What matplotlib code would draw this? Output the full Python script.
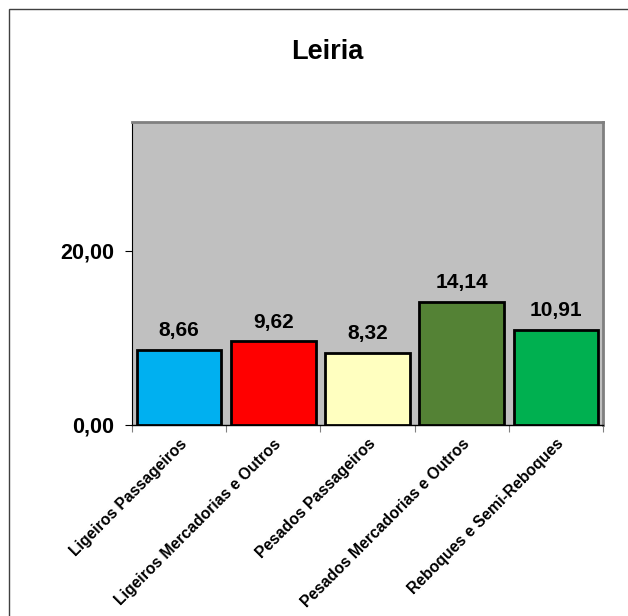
import matplotlib

matplotlib.use("Agg")
import matplotlib.pyplot as plt
from matplotlib.patches import Rectangle

plt.rcParams["font.family"] = ["Liberation Sans", "DejaVu Sans"]
plt.rcParams["font.weight"] = "bold"

categories = [
    "Ligeiros Passageiros",
    "Ligeiros Mercadorias e Outros",
    "Pesados Passageiros",
    "Pesados Mercadorias e Outros",
    "Reboques e Semi-Reboques",
]
values = [8.66, 9.62, 8.32, 14.14, 10.91]
colors = ["#00B0F0", "#FF0000", "#FFFFC0", "#548235", "#00B050"]
y_ticks = [0, 20]

fig = plt.figure(figsize=(6.28, 6.16), dpi=100)
# outer chart frame
fig.patches.append(Rectangle((9 / 628, -0.1), 1.2, 1 - 9 / 616 + 0.1,
                             transform=fig.transFigure, fill=False,
                             edgecolor="#404040", linewidth=1.0))

ax = fig.add_axes([132 / 628, 1 - 425 / 616, 471 / 628, 303 / 616])
ax.set_facecolor("#C0C0C0")
x = list(range(len(categories)))
ax.bar(x, values, width=0.9, color=colors, edgecolor="black", linewidth=2.0, zorder=3)

for xi, v in zip(x, values):
    ax.text(xi, v + 1.1, f"{v:.2f}".replace(".", ","), ha="center", va="bottom",
            fontsize=15, fontweight="bold")

ax.set_xlim(-0.5, len(categories) - 0.5)
ax.set_ylim(0, 34.8)
ax.set_yticks(y_ticks)
ax.set_yticklabels([f"{t:.2f}".replace(".", ",") for t in y_ticks], fontsize=15.5, fontweight="bold")

ax.set_xticks([i - 0.5 for i in range(len(categories) + 1)])
ax.set_xticklabels([])
ax.set_xticks(x, minor=True)
ax.set_xticklabels(categories, minor=True, rotation=45, ha="right", va="top",
                   rotation_mode="anchor", fontsize=11.3, fontweight="bold")
ax.tick_params(axis="x", which="minor", length=0, pad=8)
ax.tick_params(axis="x", which="major", length=5, color="#808080")
ax.tick_params(axis="y", length=5, color="black", pad=8)

for side in ["top", "right"]:
    ax.spines[side].set_color("#808080")
    ax.spines[side].set_linewidth(2)
ax.spines["left"].set_color("black")
ax.spines["bottom"].set_color("black")
ax.spines["bottom"].set_linewidth(1.0)

fig.text(327 / 628, 1 - 52 / 616, "Leiria", ha="center", va="center", fontsize=19.5, fontweight="bold")

fig.savefig("out.png", dpi=100)
